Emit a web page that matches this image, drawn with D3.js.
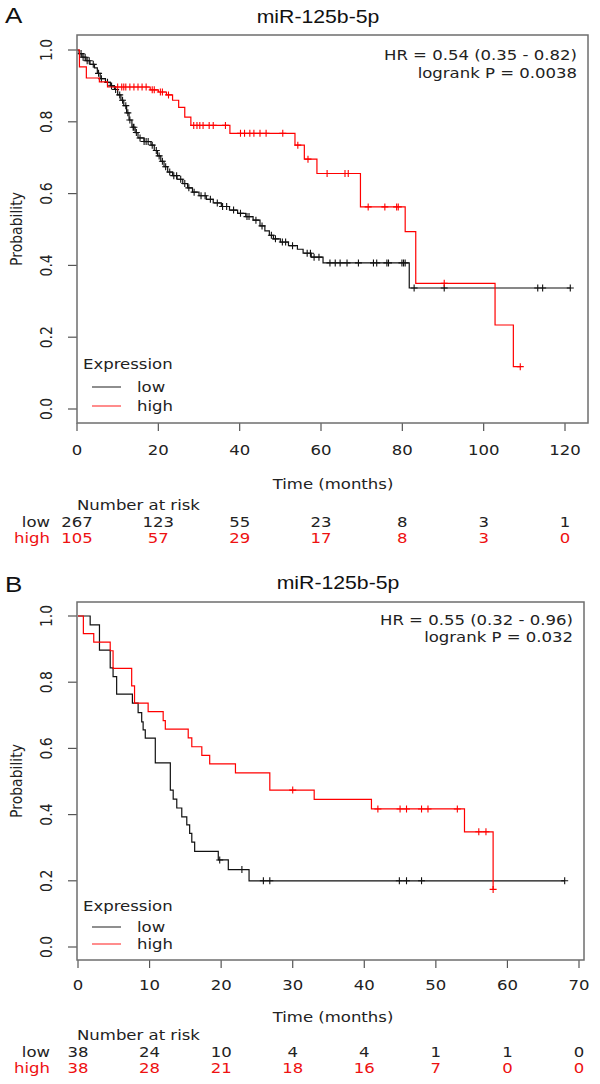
<!DOCTYPE html>
<html>
<head>
<meta charset="utf-8">
<script src="https://cdn.jsdelivr.net/npm/d3@7"></script>
<style>
  body { margin: 0; background: #fff; }
  svg { display: block; }
</style>
</head>
<body>
<svg id="chart" width="600" height="1084"></svg>
<script>
// ---- data ----
const title = 'miR-125b-5p';
const groups = ['low', 'high'];
const yTicks = [0, 0.2, 0.4, 0.6, 0.8, 1.0];

// panel A: [time, survival after drop]
const xTicksA = [0, 20, 40, 60, 80, 100, 120];
const lowStepsA = [[0.5,0.99],[1.2,0.98],[2.2,0.97],[3.2,0.96],[4.3,0.95],[5,0.935],[5.7,0.92],[7,0.91],[8.2,0.90],[9.2,0.89],
  [10,0.875],[10.8,0.86],[11.5,0.845],[12.2,0.825],[12.8,0.805],[13.5,0.785],[14.3,0.77],[15,0.755],[16.5,0.745],[18.2,0.735],
  [19,0.72],[19.8,0.705],[20.6,0.69],[21.4,0.675],[22.3,0.66],[23.5,0.65],[24.6,0.64],[26,0.628],[27.2,0.616],[28.4,0.604],
  [30,0.594],[31.8,0.584],[33.5,0.574],[35.5,0.564],[37.5,0.554],[39.5,0.545],[41.5,0.536],[43.3,0.526],[45,0.51],[46.2,0.496],
  [47.3,0.484],[48.3,0.474],[50,0.465],[52,0.455],[54.2,0.445],[55.6,0.434],[57.6,0.423],[60.5,0.407],[81.7,0.337]];
const lowEndA = 121.3;
const lowCensorA = [1,1.5,2,2.5,3,4,5.3,6,7.5,8.5,9.5,10.5,11.2,12,12.5,13,13.8,14,14.6,15.5,16.5,17,17.5,18.5,19.5,20.2,21,21.8,
  22.8,23.8,24.5,25.5,26.5,27.5,28.8,30.5,31.5,32.8,34.5,35.8,36.8,38.5,40.2,41.8,42.3,44,45.5,47.8,48.8,50.5,51.3,53,56.6,57.4,
  58.3,59.5,62.2,63.5,64.7,66.4,69.2,72.9,73.7,76.2,76.6,79.9,80.3,80.7,82.9,90.3,113.3,114.5,121.3];
const highStepsA = [[0.6,0.953],[2.3,0.922],[5.5,0.911],[7.5,0.897],[18,0.889],[20,0.883],[22,0.875],[23.5,0.86],[25,0.84],
  [26.5,0.813],[28,0.79],[37.6,0.768],[53.6,0.735],[55.9,0.696],[59,0.656],[69.7,0.563],[80.7,0.494],[83.3,0.350],
  [102.8,0.234],[107.3,0.118]];
const highEndA = 109;
const highCensorA = [10,11,11.5,12,13,14,15,16,17,18.5,19,20.5,21,22.5,28.7,29.5,30.2,31,32.5,33.5,36.5,40.2,41.2,42.5,43.5,
  45,46.5,50.6,54.3,56.8,61.5,65.9,66.7,71.6,75.7,78.6,79,90.3,109];
const riskLowA = [267, 123, 55, 23, 8, 3, 1];
const riskHighA = [105, 57, 29, 17, 8, 3, 0];
const hrA = ['HR = 0.54 (0.35 - 0.82)', 'logrank P = 0.0038'];

// panel B
const xTicksB = [0, 10, 20, 30, 40, 50, 60, 70];
const lowStepsB = [[1.7,0.973],[3,0.897],[4.5,0.843],[4.9,0.817],[5.4,0.764],[7.6,0.737],[8.4,0.708],[8.9,0.68],[9.1,0.656],
  [9.4,0.631],[10.8,0.556],[12.9,0.474],[13.3,0.447],[13.8,0.42],[14.5,0.393],[15.2,0.369],[15.6,0.343],[15.9,0.317],
  [16.3,0.289],[19.6,0.263],[21,0.234],[23.9,0.2]];
const lowEndB = 68;
const lowCensorB = [19.8, 22.9, 25.9, 26.8, 44.9, 45.9, 48, 68];
const highStepsB = [[0.75,0.947],[2.2,0.921],[4.5,0.895],[4.9,0.842],[7.5,0.789],[7.9,0.737],[9.8,0.711],[11.9,0.684],
  [12.2,0.658],[15.4,0.632],[15.9,0.605],[17.3,0.579],[18.4,0.553],[22,0.526],[26.8,0.474],[33,0.446],[41,0.417],
  [54,0.348],[58,0.174]];
const highEndB = 58;
const highCensorB = [30, 41.9, 45, 45.9, 48, 48.9, 53, 56, 57, 58];
const riskLowB = [38, 24, 10, 4, 4, 1, 1, 0];
const riskHighB = [38, 28, 21, 18, 16, 7, 0, 0];
const hrB = ['HR = 0.55 (0.32 - 0.96)', 'logrank P = 0.032'];

// ---- drawing ----
const SX = 1.18; // the picture is a bit wider than tall
const colors = { low: '#111', high: '#ff0000' };
const svg = d3.select('#chart');

function label(g, x, y, s, opt = {}) {
  const { anchor = 'middle', size = 14, fill = '#222', family = 'DejaVu Sans', rotate = false } = opt;
  return g.append('text')
    .attr('transform', `translate(${x},${y}) scale(${SX},1)` + (rotate ? ' rotate(-90)' : ''))
    .attr('text-anchor', anchor)
    .attr('dominant-baseline', 'central')
    .attr('font-family', family)
    .attr('font-size', size)
    .attr('fill', fill)
    .text(s);
}

function survAt(steps, t) {
  let p = 1;
  steps.forEach(d => { if (d[0] <= t) p = d[1]; });
  return p;
}

function drawPanel(p) {
  const g = svg.append('g');
  const x = d3.scaleLinear().domain([0, d3.max(p.xTicks)]).range(p.xRange);
  const y = d3.scaleLinear().domain([0, 1]).range(p.yRange);
  const [bx0, by0, bx1, by1] = p.box;

  label(g, 5, p.letterY, p.letter, { anchor: 'start', size: 22, fill: '#111', family: 'Liberation Sans' });
  label(g, p.titleX, p.titleY, title, { size: 18, fill: '#111', family: 'Liberation Sans' });

  // ticks
  g.append('g').selectAll('line').data(p.xTicks).join('line')
    .attr('x1', d => x(d)).attr('x2', d => x(d)).attr('y1', by1).attr('y2', by1 + 8)
    .attr('stroke', '#555').attr('stroke-width', 1.2);
  p.xTicks.forEach(d => label(g, x(d), p.tickLabY, d));
  g.append('g').selectAll('line').data(yTicks).join('line')
    .attr('x1', bx0 - 9).attr('x2', bx0).attr('y1', d => y(d)).attr('y2', d => y(d))
    .attr('stroke', '#555').attr('stroke-width', 1.2);
  yTicks.forEach(d => label(g, 47, y(d), d.toFixed(1), { rotate: true }));
  label(g, 17, (by0 + by1) / 2, 'Probability', { rotate: true });
  label(g, 333, p.xlabY, 'Time (months)');

  // curves
  const line = d3.line().x(d => x(d[0])).y(d => y(d[1])).curve(d3.curveStepAfter);
  p.series.forEach(s => {
    const pts = [[0, 1], ...s.steps, [s.end, s.steps[s.steps.length - 1][1]]];
    g.append('path').datum(pts).attr('d', line)
      .attr('fill', 'none').attr('stroke', colors[s.key]).attr('stroke-width', 1.2);
    g.append('path')
      .attr('d', s.censor.map(t => {
        const cx = x(t), cy = y(survAt(s.steps, t));
        return `M${cx - 3.5},${cy}h7M${cx},${cy - 3.5}v7`;
      }).join(''))
      .attr('stroke', colors[s.key]).attr('stroke-width', 1.1);
  });

  // box
  g.append('rect').attr('x', bx0).attr('y', by0).attr('width', bx1 - bx0).attr('height', by1 - by0)
    .attr('fill', 'none').attr('stroke', '#6e6e6e').attr('stroke-width', 1.5);

  // HR text
  label(g, p.hrX, p.hrY[0], p.hr[0], { anchor: 'end' });
  label(g, p.hrX, p.hrY[1], p.hr[1], { anchor: 'end' });

  // legend
  label(g, 83, p.legY[0], 'Expression', { anchor: 'start' });
  groups.forEach((k, i) => {
    g.append('line').attr('x1', 92).attr('x2', 121).attr('y1', p.legY[i + 1]).attr('y2', p.legY[i + 1])
      .attr('stroke', k === 'low' ? '#444' : '#ff4040').attr('stroke-width', 1.2);
    label(g, 137, p.legY[i + 1], k, { anchor: 'start' });
  });

  // number at risk
  label(g, 77, p.narY[0], 'Number at risk', { anchor: 'start' });
  [p.riskLow, p.riskHigh].forEach((vals, i) => {
    const fill = i === 0 ? '#222' : '#ee1111';
    label(g, 50, p.narY[i + 1], groups[i], { anchor: 'end', fill });
    vals.forEach((v, j) => label(g, x(p.xTicks[j]), p.narY[i + 1], v, { fill }));
  });
}

drawPanel({
  letter: 'A', letterY: 15, titleX: 318, titleY: 17,
  box: [77, 35, 588, 423], xRange: [77, 565], yRange: [409, 50],
  xTicks: xTicksA, tickLabY: 450, xlabY: 484,
  series: [
    { key: 'low', steps: lowStepsA, end: lowEndA, censor: lowCensorA },
    { key: 'high', steps: highStepsA, end: highEndA, censor: highCensorA }
  ],
  hr: hrA, hrX: 577, hrY: [55, 73],
  legY: [364, 387, 406],
  riskLow: riskLowA, riskHigh: riskHighA, narY: [505, 522, 538]
});

drawPanel({
  letter: 'B', letterY: 584, titleX: 338, titleY: 583,
  box: [77, 602, 584, 960], xRange: [78, 579], yRange: [947, 616],
  xTicks: xTicksB, tickLabY: 985, xlabY: 1017,
  series: [
    { key: 'low', steps: lowStepsB, end: lowEndB, censor: lowCensorB },
    { key: 'high', steps: highStepsB, end: highEndB, censor: highCensorB }
  ],
  hr: hrB, hrX: 573, hrY: [620, 637],
  legY: [906, 927, 944],
  riskLow: riskLowB, riskHigh: riskHighB, narY: [1035, 1052, 1068]
});
</script>
</body>
</html>
